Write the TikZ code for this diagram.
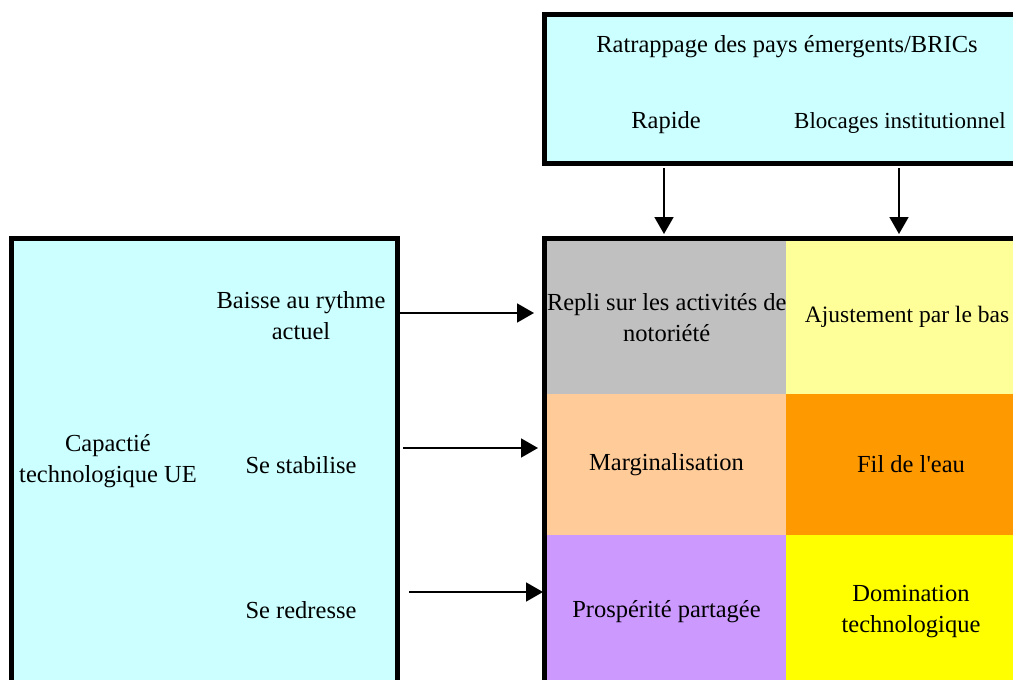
\documentclass[tikz,border=0pt]{standalone}
\usepackage{fontspec}
\newfontfamily\garfont{Liberation Serif}
\usetikzlibrary{arrows.meta}
\definecolor{cyanbg}{HTML}{CCFFFF}
\definecolor{cgray}{HTML}{C0C0C0}
\definecolor{cltyellow}{HTML}{FFFF99}
\definecolor{cpeach}{HTML}{FFCC99}
\definecolor{corange}{HTML}{FF9900}
\definecolor{clavender}{HTML}{CC99FF}
\definecolor{cyellow}{HTML}{FFFF00}
\begin{document}
\begin{tikzpicture}[x=1pt,y=-1pt,
  frame/.style={draw=black,line width=5pt,fill=cyanbg,anchor=north west,inner sep=0pt,outer sep=0pt},
  cell/.style={draw=none,inner sep=0pt,outer sep=0pt,anchor=north west,align=center,
    font=\garfont\fontsize{24.5}{31}\selectfont},
  lbl/.style={align=center,inner sep=0pt,font=\garfont\fontsize{24.5}{31}\selectfont},
  arr/.style={line width=1.8pt,-{Triangle[length=17pt,width=19pt]}}]
\useasboundingbox (0,0) rectangle (1013,680);
\clip (0,0) rectangle (1013,680);
% top box
\node[frame,minimum width=487pt,minimum height=149pt] (topbox) at (544.5,14.5) {};
\node[lbl] (bric) at (787,47) {Ratrappage des pays émergents/BRICs};
\node[lbl] (rapide) at (666,123) {Rapide};
\node[lbl,anchor=west,font=\garfont\fontsize{23}{31}\selectfont] (blocages) at (794,123) {Blocages institutionnel};
% left box
\node[frame,minimum width=385.5pt,minimum height=470pt] (leftbox) at (11.5,238.5) {};
\node[lbl] (capa) at (108,461) {Capactié\\technologique UE};
\node[lbl] (baisse) at (301,316) {Baisse au rythme\\actuel};
\node[lbl] (stab) at (301,465) {Se stabilise};
\node[lbl] (redr) at (301,610) {Se redresse};
% grid cells
\node[cell,fill=cgray,minimum width=239pt,minimum height=153pt] (repli) at (547,241) {Repli sur les activités de\\notoriété};
\node[cell,fill=cltyellow,minimum width=250pt,minimum height=153pt] (ajust) at (786,241) {};
\node[lbl,font=\garfont\fontsize{23.5}{31}\selectfont] (ajusttxt) at (907,317) {Ajustement par le bas};
\node[cell,fill=cpeach,minimum width=239pt,minimum height=141pt] (marg) at (547,394) {Marginalisation};
\node[cell,fill=corange,minimum width=250pt,minimum height=141pt] (fil) at (786,394) {Fil de l'eau};
\node[cell,fill=clavender,minimum width=239pt,minimum height=153pt] (prosp) at (547,535) {Prospérité partagée};
\node[cell,fill=cyellow,minimum width=250pt,minimum height=153pt] (domin) at (786,535) {Domination\\technologique};
\node[draw=black,line width=5pt,anchor=north west,inner sep=0pt,outer sep=0pt,
  minimum width=487pt,minimum height=470pt] (grid) at (544.5,238.5) {};
% connector end points
\coordinate (t1s) at (664,168);
\coordinate (t1e) at (664,234);
\coordinate (t2s) at (899,168);
\coordinate (t2e) at (899,234);
\coordinate (h1s) at (399,313);
\coordinate (h1e) at (534,313);
\coordinate (h2s) at (403,448);
\coordinate (h2e) at (538,448);
\coordinate (h3s) at (409,592);
\coordinate (h3e) at (543,592);
\draw[arr] (t1s) -- (t1e);
\draw[arr] (t2s) -- (t2e);
\draw[arr] (h1s) -- (h1e);
\draw[arr] (h2s) -- (h2e);
\draw[arr] (h3s) -- (h3e);
\end{tikzpicture}
\end{document}
